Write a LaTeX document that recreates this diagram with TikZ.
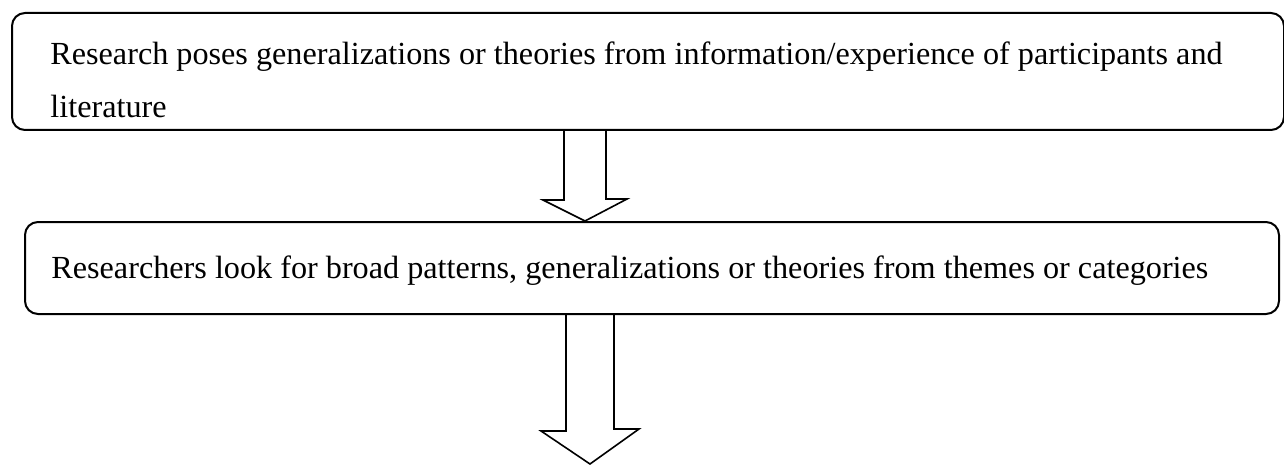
\documentclass[tikz,border=0pt]{standalone}
\usepackage{fontspec}
\setmainfont{Liberation Serif}
\usetikzlibrary{calc}
\begin{document}
\begin{tikzpicture}[x=0.5pt,y=-0.5pt,
    stepbox/.style={draw=black,line width=1pt,rounded corners=6.5pt,inner sep=0pt,anchor=north west},
    steptext/.style={inner sep=0pt,align=left,font=\fontsize{16.1}{26.5}\selectfont},
    hollow/.style={draw=black,line width=0.8pt,line join=miter}]
    \useasboundingbox (0,0) rectangle (1284,465);
    % boxes
    \node[stepbox,minimum width=636pt,minimum height=58.5pt] (pose) at (11,12) {};
    \node[steptext,anchor=north west] (posetxt) at ($(pose.north west)+(39,29)$)
        {Research poses generalizations or theories from information/experience of participants and\\literature};
    \node[stepbox,minimum width=627pt,minimum height=46pt] (look) at (24,221) {};
    \node[steptext,anchor=base west] (looktxt) at ($(look.north west)+(27,57)$)
        {Researchers look for broad patterns, generalizations or theories from themes or categories};
    % hollow arrows
    \coordinate (a1) at (585,0);
    \coordinate (end2) at (590,464);
    \draw[hollow] (pose.south -| a1) ++(-21,0) -- ++(0,69) -- ++(-21,0) -- (look.north -| a1)
        -- ++(42,-22) -- ++(-21,0) -- ++(0,-69);
    \draw[hollow] (look.south -| end2) ++(-24,0) -- ++(0,116) -- ++(-25,0) -- (end2)
        -- ++(49,-35) -- ++(-25,0) -- ++(0,-116);
\end{tikzpicture}
\end{document}
